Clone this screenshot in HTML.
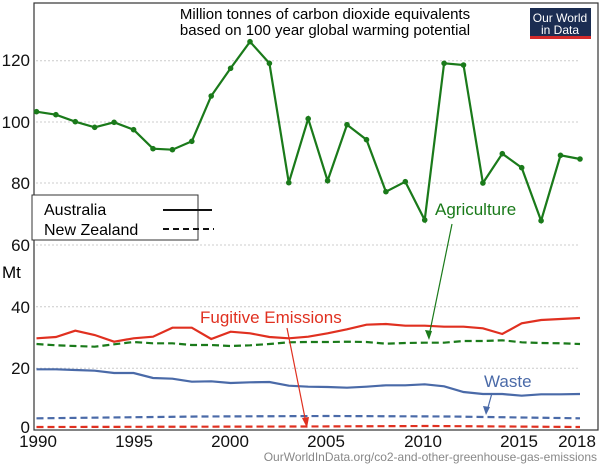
<!DOCTYPE html><html><head><style>body{margin:0;background:#fff}svg{display:block}text{font-family:"Liberation Sans",sans-serif}</style></head><body>
<svg width="600" height="466" xmlns="http://www.w3.org/2000/svg">
<rect x="34" y="3" width="564" height="427" fill="none" stroke="#333" stroke-width="1.2"/>
<g stroke="#ccc" stroke-dasharray="2,2" stroke-width="1">
<line x1="36" x2="580" y1="60.7" y2="60.7"/><line x1="36" x2="580" y1="122" y2="122"/><line x1="36" x2="580" y1="183" y2="183"/><line x1="36" x2="580" y1="245" y2="245"/><line x1="36" x2="580" y1="306.7" y2="306.7"/><line x1="36" x2="580" y1="368.3" y2="368.3"/></g>
<g font-size="17" text-anchor="end" fill="#111">
<text x="30" y="66">120</text><text x="30" y="128">100</text><text x="30" y="189">80</text><text x="30" y="251">60</text><text x="30" y="313">40</text><text x="30" y="374">20</text><text x="30" y="433">0</text></g>
<text x="2" y="278" font-size="17">Mt</text>
<g font-size="17" text-anchor="middle" fill="#111"><text x="38" y="447">1990</text><text x="134" y="447">1995</text><text x="230" y="447">2000</text><text x="326" y="447">2005</text><text x="423" y="447">2010</text><text x="519" y="447">2015</text><text x="577" y="447">2018</text></g>
<text x="597" y="461" font-size="12" fill="#888" text-anchor="end">OurWorldInData.org/co2-and-other-greenhouse-gas-emissions</text>
<text x="325" y="19" font-size="15" text-anchor="middle">Million tonnes of carbon dioxide equivalents</text>
<text x="325" y="35" font-size="15" text-anchor="middle">based on 100 year global warming potential</text>
<rect x="530" y="8" width="61" height="30" fill="#1b2d52"/><rect x="530" y="36" width="61" height="3" fill="#d42b2b"/>
<text x="560" y="22" font-size="12" fill="#fff" text-anchor="middle">Our World</text><text x="560" y="34" font-size="12" fill="#fff" text-anchor="middle">in Data</text>
<g fill="none" stroke-width="2.2">
<polyline stroke="#1a7a1a" points="36.5,111.7 55.9,114.7 75.3,121.7 94.7,127.3 114.1,122.3 133.6,129.7 153,148.7 172.4,149.7 191.8,141.3 211.2,96 230.6,68.3 250,41.7 269.4,63.3 288.8,182.7 308.2,118.7 327.6,180.7 347,124.7 366.5,139.7 385.9,191.7 405.3,181.7 424.7,220 444.1,63.3 463.5,65 482.9,183 502.3,153.7 521.7,167.7 541.1,220.7 560.5,155.3 580,159"/>
<polyline stroke="#e03020" points="36.5,338.3 55.9,337 75.3,330.7 94.7,335 114.1,341.7 133.6,338.3 153,336.7 172.4,327.7 191.8,327.7 211.2,339 230.6,331.7 250,333.3 269.4,337 288.8,338.3 308.2,336.7 327.6,333.3 347,329.3 366.5,324.7 385.9,324 405.3,325.7 424.7,325.7 444.1,326.7 463.5,326.7 482.9,328.3 502.3,334 521.7,323.3 541.1,320 560.5,319 580,318"/>
<polyline stroke="#1a7a1a" stroke-dasharray="7,4" points="36.5,344 55.9,345.3 75.3,346 94.7,346.7 114.1,344.3 133.6,342 153,343.3 172.4,343.3 191.8,345 211.2,345 230.6,346 250,345.3 269.4,344 288.8,342.3 308.2,342 327.6,342 347,341.7 366.5,342 385.9,343.7 405.3,343 424.7,342.7 444.1,342.7 463.5,341 482.9,341 502.3,340.3 521.7,342.3 541.1,343 560.5,343.3 580,344"/>
<polyline stroke="#4a6aa8" points="36.5,369.3 55.9,369.3 75.3,370 94.7,370.7 114.1,373 133.6,373 153,378 172.4,378.7 191.8,381.7 211.2,381.3 230.6,383 250,382.3 269.4,382 288.8,385.7 308.2,386.7 327.6,387 347,387.7 366.5,386.7 385.9,385.3 405.3,385.3 424.7,384.3 444.1,386.3 463.5,392 482.9,394 502.3,394 521.7,395.7 541.1,394.3 560.5,394.3 580,394"/>
<polyline stroke="#4a6aa8" stroke-dasharray="7,4" points="36.5,418.3 200,416.5 330,416 450,416.5 580,418.3"/>
<polyline stroke="#e03020" stroke-dasharray="7,4" points="36.5,427 300,426.5 430,426 580,427"/>
</g>
<g fill="#1a7a1a"><circle cx="36.5" cy="111.7" r="2.8"/><circle cx="55.9" cy="114.7" r="2.8"/><circle cx="75.3" cy="121.7" r="2.8"/><circle cx="94.7" cy="127.3" r="2.8"/><circle cx="114.1" cy="122.3" r="2.8"/><circle cx="133.6" cy="129.7" r="2.8"/><circle cx="153" cy="148.7" r="2.8"/><circle cx="172.4" cy="149.7" r="2.8"/><circle cx="191.8" cy="141.3" r="2.8"/><circle cx="211.2" cy="96" r="2.8"/><circle cx="230.6" cy="68.3" r="2.8"/><circle cx="250" cy="41.7" r="2.8"/><circle cx="269.4" cy="63.3" r="2.8"/><circle cx="288.8" cy="182.7" r="2.8"/><circle cx="308.2" cy="118.7" r="2.8"/><circle cx="327.6" cy="180.7" r="2.8"/><circle cx="347" cy="124.7" r="2.8"/><circle cx="366.5" cy="139.7" r="2.8"/><circle cx="385.9" cy="191.7" r="2.8"/><circle cx="405.3" cy="181.7" r="2.8"/><circle cx="424.7" cy="220" r="2.8"/><circle cx="444.1" cy="63.3" r="2.8"/><circle cx="463.5" cy="65" r="2.8"/><circle cx="482.9" cy="183" r="2.8"/><circle cx="502.3" cy="153.7" r="2.8"/><circle cx="521.7" cy="167.7" r="2.8"/><circle cx="541.1" cy="220.7" r="2.8"/><circle cx="560.5" cy="155.3" r="2.8"/><circle cx="580" cy="159" r="2.8"/></g>
<text x="435" y="215" font-size="17" fill="#1a7a1a">Agriculture</text>
<line x1="452" y1="224" x2="429" y2="336" stroke="#1a7a1a" stroke-width="1.2"/><polygon points="429,340 425,330 432,331" fill="#1a7a1a"/>
<text x="200" y="323" font-size="17" fill="#e03020">Fugitive Emissions</text>
<line x1="287" y1="328" x2="306" y2="423" stroke="#e03020" stroke-width="1.2"/><polygon points="307,428 302,418 309,417" fill="#e03020"/>
<text x="484" y="387" font-size="17" fill="#4a6aa8">Waste</text>
<line x1="492" y1="393" x2="487" y2="411" stroke="#4a6aa8" stroke-width="1.2"/><polygon points="486,415 483,406 490,407" fill="#4a6aa8"/>
<rect x="32" y="195" width="166" height="45" fill="#fff" stroke="#333" stroke-width="1"/>
<text x="44" y="215" font-size="16">Australia</text><text x="44" y="235" font-size="16">New Zealand</text>
<line x1="163" y1="210" x2="212" y2="210" stroke="#111" stroke-width="2"/>
<line x1="163" y1="229" x2="214" y2="229" stroke="#111" stroke-width="2" stroke-dasharray="6,4"/>
</svg></body></html>
